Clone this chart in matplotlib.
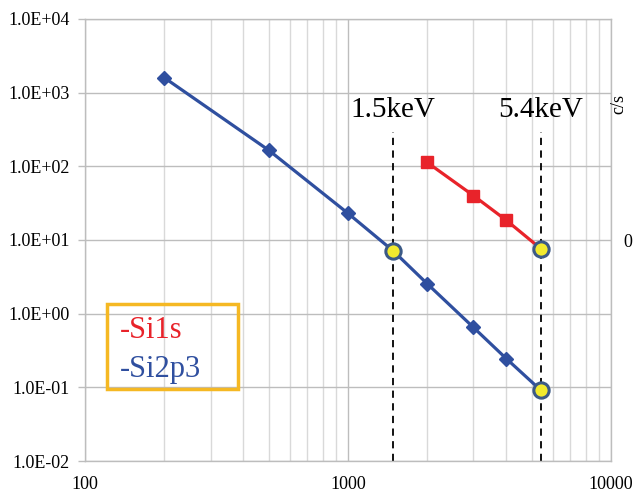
import matplotlib
matplotlib.use("Agg")
import matplotlib.pyplot as plt
from matplotlib.ticker import FixedLocator, LogLocator, NullFormatter, FuncFormatter

plt.rcParams['font.family'] = ['Liberation Serif', 'DejaVu Serif']

# Photon energy (eV) vs intensity (c/s)
si2p3_energy = [200, 500, 1000, 1486, 2000, 3000, 4000, 5414]
si2p3_counts = [1600, 165, 23, 7.1, 2.55, 0.65, 0.245, 0.091]
si1s_energy = [2000, 3000, 4000, 5414]
si1s_counts = [113, 40, 18.5, 7.6]

# Highlighted points at the two lab-source energies
mark_energy = [1486, 5414, 5414]
mark_counts = [7.1, 7.6, 0.091]
source_energy = [1486, 5414]
source_labels = ["1.5keV", "5.4keV"]

x_ticks = [100, 1000, 10000]
y_ticks = [1e-2, 1e-1, 1e0, 1e1, 1e2, 1e3, 1e4]

blue = "#2f4f9f"
red = "#e8232a"

fig = plt.figure(figsize=(6.35, 4.92), dpi=100)
ax = fig.add_axes([0.1339, 0.063, 0.8283, 0.8984])
ax.set_xscale("log")
ax.set_yscale("log")
ax.set_xlim(100, 10000)
ax.set_ylim(1e-2, 1e4)

ax.xaxis.set_major_locator(FixedLocator(x_ticks))
ax.xaxis.set_minor_locator(LogLocator(base=10, subs=range(2, 10)))
ax.xaxis.set_minor_formatter(NullFormatter())
ax.xaxis.set_major_formatter(FuncFormatter(lambda v, p: f"{v:.0f}"))
ax.yaxis.set_major_locator(FixedLocator(y_ticks))
ax.yaxis.set_minor_locator(FixedLocator([]))
ax.yaxis.set_major_formatter(FuncFormatter(lambda v, p: f"{v:.1E}"))

ax.grid(which="major", color="#bdbdbd", linewidth=1.0)
ax.grid(which="minor", axis="x", color="#d9d9d9", linewidth=1.0)
ax.set_axisbelow(True)
for s in ax.spines.values():
    s.set_color("#bdbdbd")
    s.set_linewidth(1.0)
ax.tick_params(axis="x", which="both", length=0, labelsize=13, pad=11,
               colors="black")
ax.tick_params(axis="y", which="major", length=5, width=1.0, pad=6,
               labelsize=13, color="#bdbdbd", labelcolor="black",
               direction="out")

for e in source_energy:
    ax.plot([e, e], [1e-2, 290], color="black", linestyle=(0, (4, 3)),
            linewidth=1.3, zorder=2)
for e, t in zip(source_energy, source_labels):
    ax.text(e, 580, t, ha="center", va="center", fontsize=21, color="black")

ax.plot(si2p3_energy, si2p3_counts, color=blue, linewidth=2.3, marker="D",
        markersize=7, zorder=3)
ax.plot(si1s_energy, si1s_counts, color=red, linewidth=2.3, marker="s",
        markersize=8.5, zorder=3)
ax.plot(mark_energy, mark_counts, linestyle="none", marker="o", markersize=11,
        markerfacecolor="#f2ea2e", markeredgecolor="#3c5a86", markeredgewidth=2.2,
        zorder=4)

# Legend box
ax.text(0.066, 0.296, "-Si1s", transform=ax.transAxes, color=red, fontsize=22,
        va="center", ha="left", zorder=6)
ax.text(0.066, 0.206, "-Si2p3", transform=ax.transAxes, color=blue, fontsize=22,
        va="center", ha="left", zorder=6)
fig.patches.append(plt.Rectangle((107 / 635, 1 - 389 / 492), 131 / 635, 85 / 492,
                                 transform=fig.transFigure, fill=False,
                                 edgecolor="#f5b823", linewidth=2.5, zorder=5))

fig.text(619 / 635, 1 - 104 / 492, "c/s", rotation=90, ha="center", va="center",
         fontsize=13)
fig.text(628 / 635, 1 - 242 / 492, "0", ha="center", va="center", fontsize=13)

fig.savefig("out.png", dpi=100)
